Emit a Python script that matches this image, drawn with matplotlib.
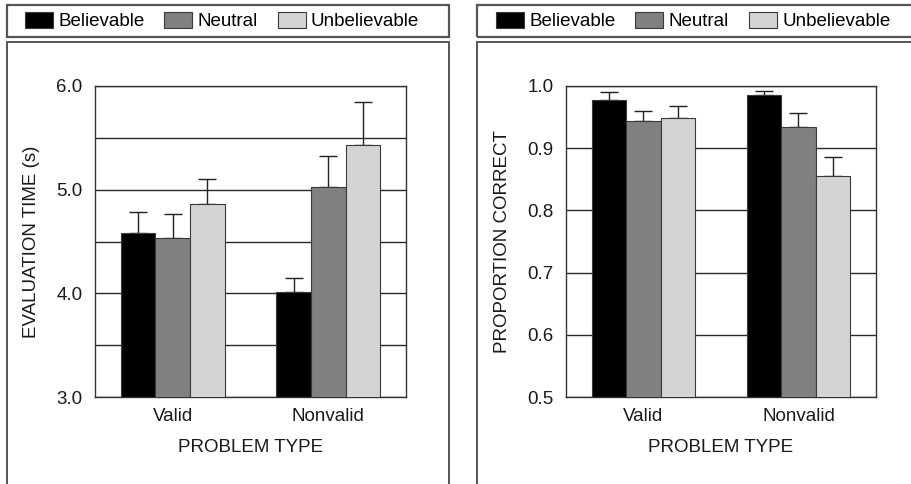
import matplotlib
matplotlib.use("Agg")
import matplotlib.pyplot as plt
from matplotlib.patches import Rectangle
import numpy as np

plt.rcParams['font.family'] = ['Liberation Sans', 'DejaVu Sans']

problem_types = ["Valid", "Nonvalid"]
conditions = ["Believable", "Neutral", "Unbelievable"]
colors = ["#000000", "#808080", "#d4d4d4"]

# Evaluation time (s): mean and standard error per condition, by problem type
time_believable = [4.58, 4.01]
time_neutral = [4.535, 5.03]
time_unbelievable = [4.857, 5.433]
time_err_believable = [0.20, 0.14]
time_err_neutral = [0.23, 0.29]
time_err_unbelievable = [0.25, 0.41]

# Proportion correct: mean and standard error per condition, by problem type
acc_believable = [0.978, 0.985]
acc_neutral = [0.943, 0.934]
acc_unbelievable = [0.9485, 0.855]
acc_err_believable = [0.012, 0.007]
acc_err_neutral = [0.017, 0.023]
acc_err_unbelievable = [0.020, 0.031]

W, H = 912, 484
fig = plt.figure(figsize=(W / 100, H / 100), dpi=100)

FS = 13.5
frame_col = "#555555"


def fig_rect(x0, y0, x1, y1, **kw):
    r = Rectangle((x0 / W, 1 - y1 / H), (x1 - x0) / W, (y1 - y0) / H,
                  transform=fig.transFigure, fill=False, **kw)
    fig.add_artist(r)


# panel frames: legend strip on top, plot box below
for xl, xr in [(7, 449), (477, 940)]:
    fig_rect(xl, 5, xr, 37, edgecolor=frame_col, lw=1.6)
    fig_rect(xl, 42, xr, 520, edgecolor=frame_col, lw=1.4)

width = 0.222
x = np.arange(len(problem_types))


def draw_panel(ax, means, errs, ylim, major, minor, fmt, ylabel):
    handles = []
    for i, (m, e) in enumerate(zip(means, errs)):
        pos = x + (i - 1) * width
        b = ax.bar(pos, m, width, color=colors[i], edgecolor="#3a3a3a",
                   linewidth=0.8, zorder=3, label=conditions[i])
        ax.errorbar(pos, m, yerr=[np.zeros(len(e)), e], fmt="none",
                    ecolor="#222222", elinewidth=1.0, capsize=6.5,
                    capthick=1.0, zorder=2)
        handles.append(b)
    ax.set_xlim(-0.5, 1.5)
    ax.set_ylim(*ylim)
    ax.set_yticks(major)
    ax.set_yticklabels([fmt.format(v) for v in major])
    ax.set_yticks(minor, minor=True)
    ax.grid(True, which="both", axis="y", color="#2a2a2a", lw=1.0, zorder=0)
    ax.set_axisbelow(True)
    ax.set_xticks(x)
    ax.set_xticklabels(problem_types)
    ax.tick_params(axis="both", which="both", length=0, labelsize=FS,
                   colors="#1a1a1a")
    ax.tick_params(axis="y", pad=9)
    ax.tick_params(axis="x", pad=8)
    for s in ax.spines.values():
        s.set_color("#333333")
        s.set_linewidth(1.0)
    ax.set_xlabel("PROBLEM TYPE", fontsize=FS, color="#1a1a1a", labelpad=10)
    ax.set_ylabel(ylabel, fontsize=FS, color="#1a1a1a", labelpad=12)
    return handles


ax1 = fig.add_axes([95 / W, 1 - 397 / H, 311 / W, 311 / H])
h1 = draw_panel(ax1,
                [time_believable, time_neutral, time_unbelievable],
                [time_err_believable, time_err_neutral, time_err_unbelievable],
                (3.0, 6.0), [3.0, 4.0, 5.0, 6.0], [3.5, 4.5, 5.5],
                "{:.1f}", "EVALUATION TIME (s)")

ax2 = fig.add_axes([566 / W, 1 - 397 / H, 310 / W, 311 / H])
h2 = draw_panel(ax2,
                [acc_believable, acc_neutral, acc_unbelievable],
                [acc_err_believable, acc_err_neutral, acc_err_unbelievable],
                (0.5, 1.0), [0.5, 0.6, 0.7, 0.8, 0.9, 1.0], [],
                "{:.1f}", "PROPORTION CORRECT")

for hx, handles in [(25, h1), (496, h2)]:
    fig.legend(handles=handles, labels=conditions, loc="center left",
               bbox_to_anchor=(hx / W, 1 - 21 / H), ncol=3, frameon=False,
               fontsize=FS, handlelength=1.5, handleheight=0.95,
               handletextpad=0.28, columnspacing=1.05, borderpad=0,
               borderaxespad=0)

fig.savefig("out.png", dpi=100)
